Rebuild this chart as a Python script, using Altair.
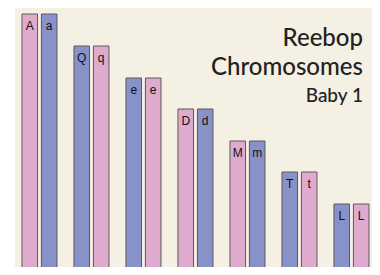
import altair as alt
import pandas as pd

pairs = ["1", "2", "3", "4", "5", "6", "7"]
labels_first = ["A", "Q", "e", "D", "M", "T", "L"]
labels_second = ["a", "q", "e", "d", "m", "t", "L"]
parent_first = ["Mother", "Father", "Father", "Mother", "Mother", "Father", "Father"]
parent_second = ["Father", "Mother", "Mother", "Father", "Father", "Mother", "Mother"]
lengths = [258, 226, 194, 163, 131, 100, 68]

rows = []
for i, p in enumerate(pairs):
    rows.append({"pair": p, "member": 0, "label": labels_first[i], "parent": parent_first[i], "length": lengths[i]})
    rows.append({"pair": p, "member": 1, "label": labels_second[i], "parent": parent_second[i], "length": lengths[i]})
df = pd.DataFrame(rows)

title_lines = pd.DataFrame({
    "text": ["Reebop", "Chromosomes", "Baby 1"],
    "size": [24, 24, 19],
    "ypos": [38, 67, 94],
})

x_enc = alt.X("pair:N", sort=pairs, axis=None,
              scale=alt.Scale(paddingInner=0, paddingOuter=0, range=[0, 364]))
xo_enc = alt.XOffset("member:N", scale=alt.Scale(paddingInner=0.2, paddingOuter=0.437, align=0.41))
y_enc = alt.Y("length:Q", axis=None, scale=alt.Scale(domain=[5, 264], nice=False, zero=False))

bars = alt.Chart(df).mark_bar(stroke="#5a5a5a", strokeWidth=1, clip=True).encode(
    x=x_enc, xOffset=xo_enc, y=y_enc, y2=alt.datum(0),
    color=alt.Color("parent:N", legend=None,
                    scale=alt.Scale(domain=["Mother", "Father"], range=["#deaacd", "#8891c8"])),
)

txt = alt.Chart(df).mark_text(font="Liberation Sans", fontSize=12, dy=16, baseline="alphabetic",
                              align="center", color="#111111").encode(
    x=x_enc, xOffset=xo_enc, y=y_enc, text="label:N",
)

title = alt.Chart(title_lines).mark_text(font="Lato", fontWeight=500, align="right", baseline="alphabetic",
                                         color="#222222").encode(
    x=alt.value(348),
    y=alt.Y("ypos:Q", scale=None),
    text="text:N",
    size=alt.Size("size:Q", scale=None, legend=None),
)

chart = alt.layer(bars, txt, title).properties(
    width=364, height=259,
    autosize=alt.AutoSizeParams(type="fit", contains="padding"),
    padding={"left": 7, "top": 0, "right": 0, "bottom": 0},
    background="white",
).configure_view(fill="#f4f0e4", stroke=None)

chart.save("out.html", embed_options={"renderer": "svg", "actions": False})
